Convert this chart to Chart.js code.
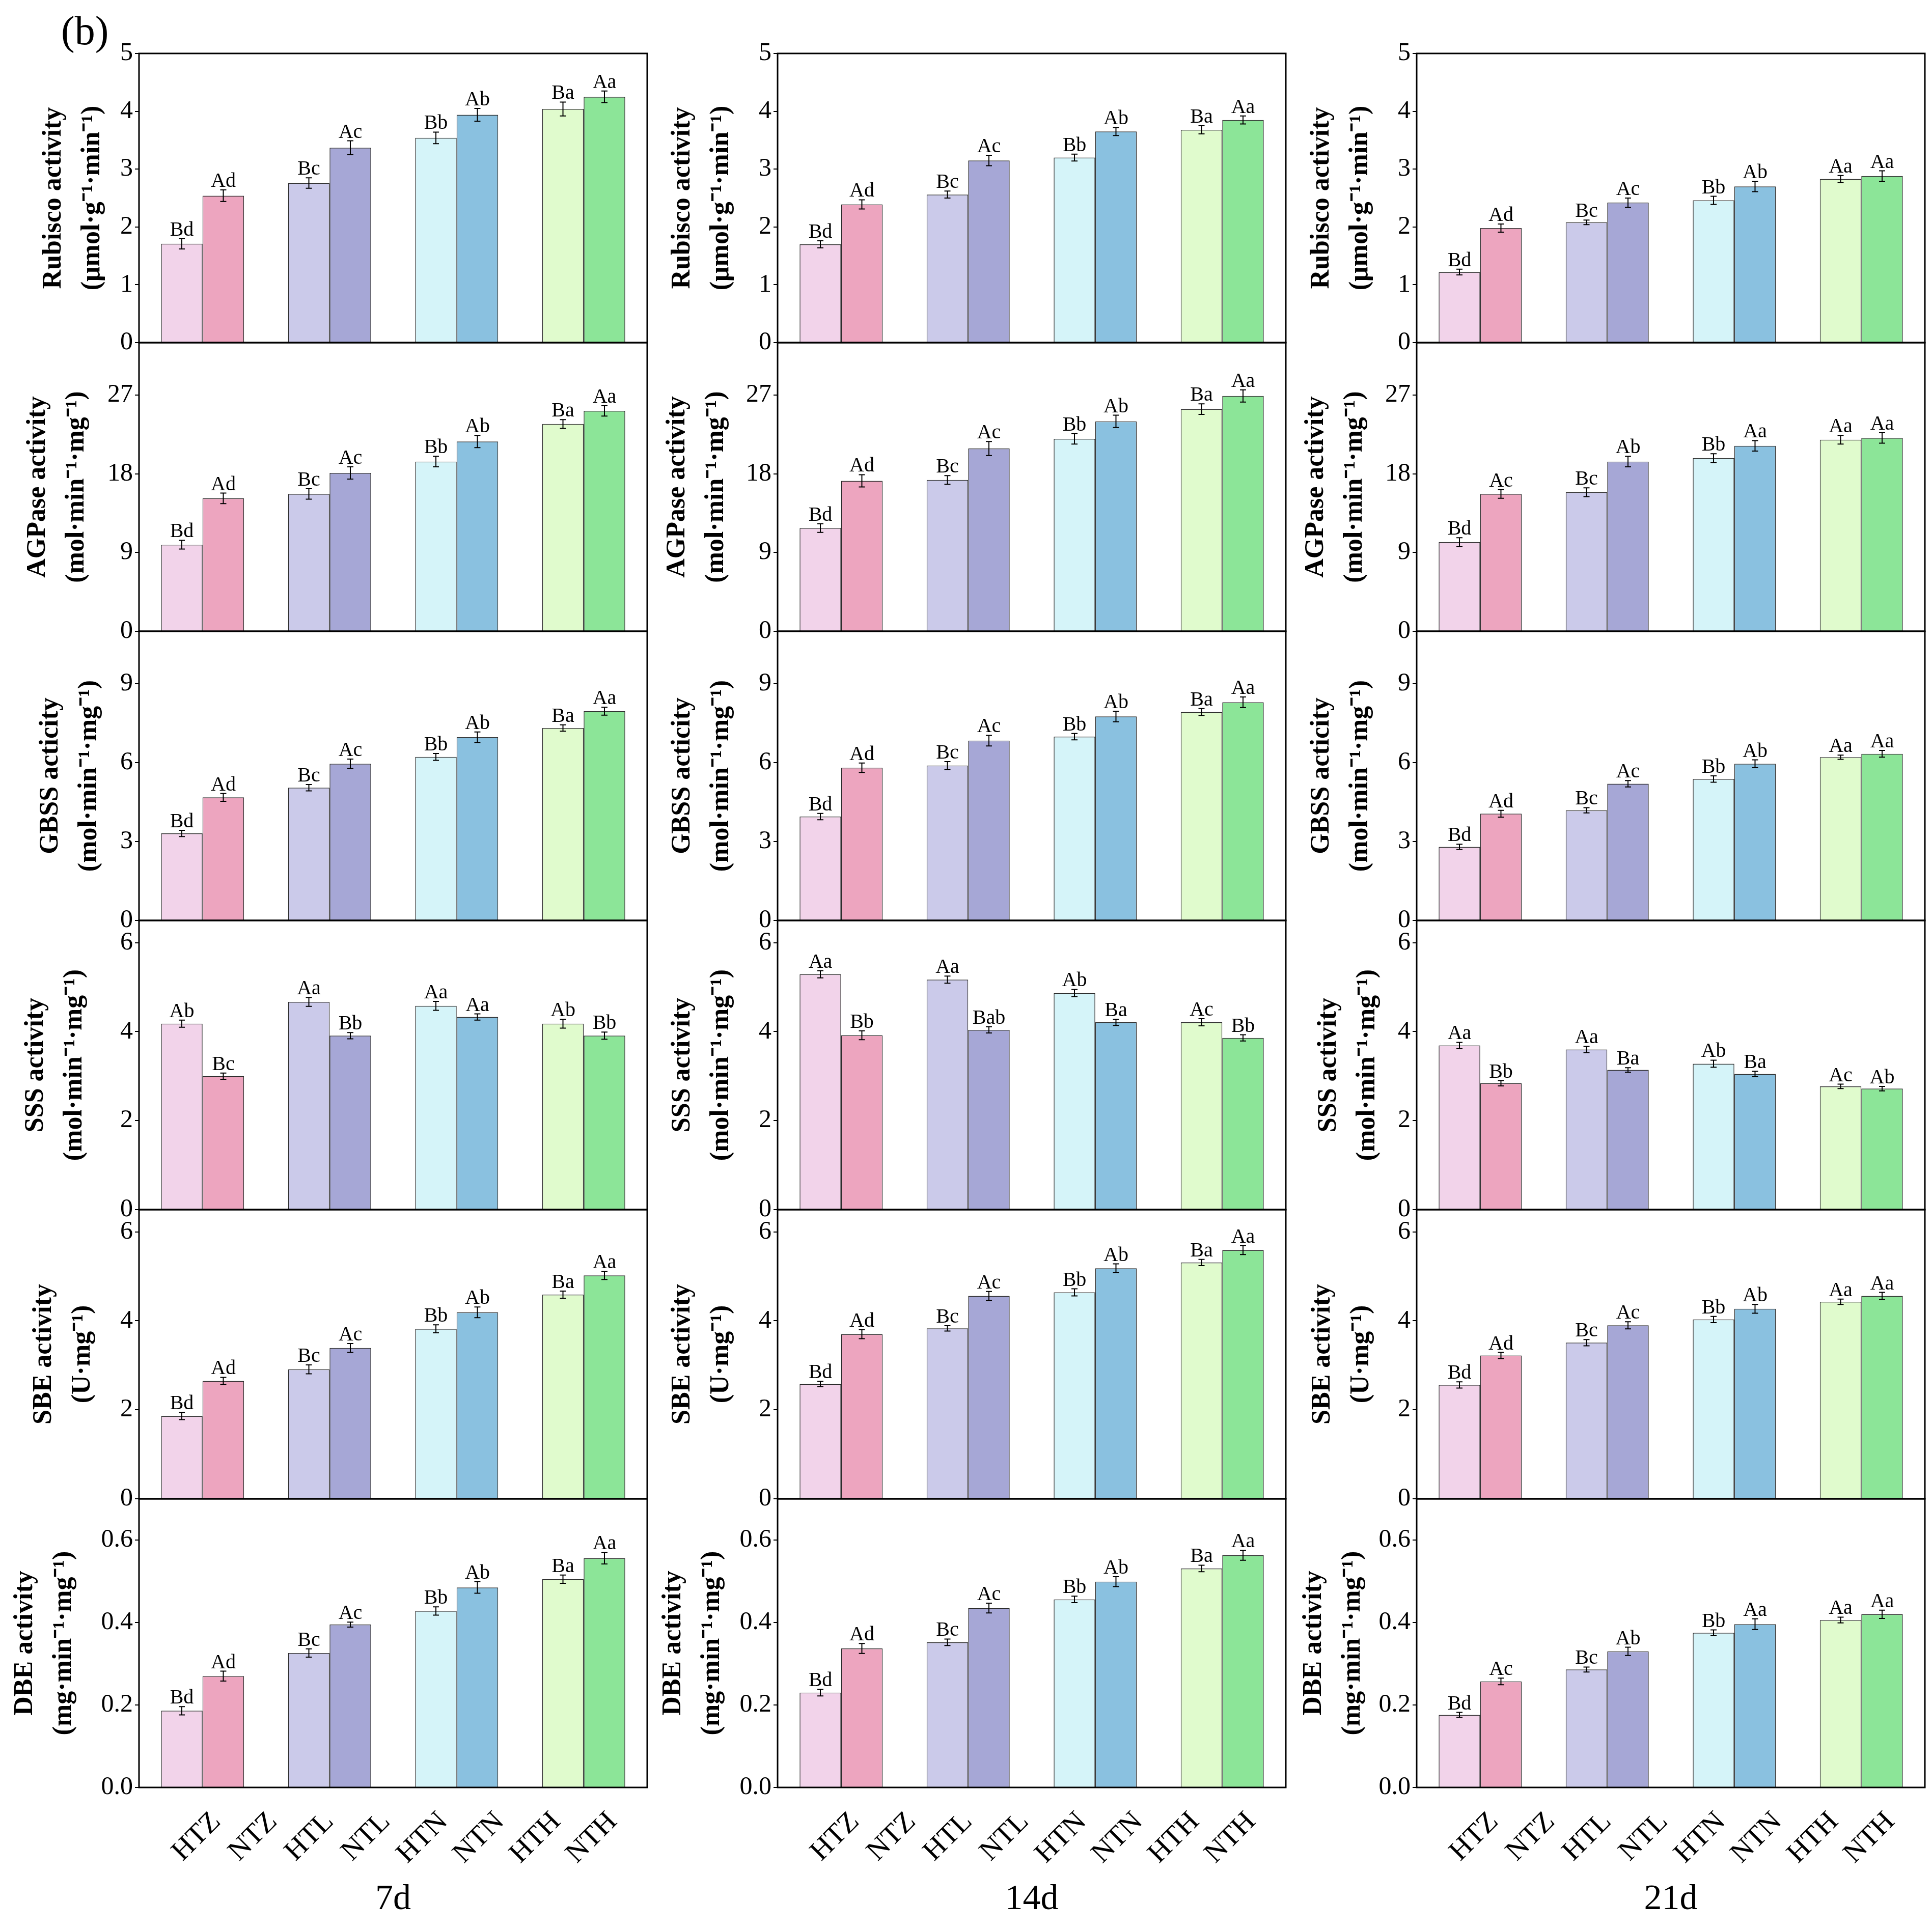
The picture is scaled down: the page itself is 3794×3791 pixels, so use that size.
<!DOCTYPE html>
<html lang="en">
<head>
<meta charset="UTF-8">
<title>Starch enzyme activity</title>
<script src="https://cdn.jsdelivr.net/npm/chart.js@4.4.0/dist/chart.umd.min.js"></script>
<style>
  html, body { margin: 0; padding: 0; background: #fff; }
  body { width: 3794px; height: 3791px; position: relative; overflow: hidden; }
  canvas { position: absolute; }
  #tag { position: absolute; left: 120px; top: 20px; font: 80px "Liberation Serif", serif; line-height: 80px; }
</style>
</head>
<body>
<div id="tag">(b)</div>
<script>
// categories (bar order inside every panel)
const CATEGORIES = ['HTZ', 'NTZ', 'HTL', 'NTL', 'HTN', 'NTN', 'HTH', 'NTH'];
const DAYS = ['7d', '14d', '21d'];

// bar fills: HT (light) and NT (dark) per variety
const HT_COLORS = ['#F2D3EA', '#CBCAEA', '#D5F4F9', '#E0FBCD'];
const NT_COLORS = ['#EDA5BF', '#A6A7D6', '#8AC1E0', '#8CE598'];

// Rubisco
const RUBISCO_7D = [1.71, 2.54, 2.76, 3.37, 3.54, 3.94, 4.04, 4.25];
const RUBISCO_14D = [1.70, 2.39, 2.56, 3.15, 3.20, 3.65, 3.68, 3.85];
const RUBISCO_21D = [1.22, 1.98, 2.08, 2.42, 2.46, 2.70, 2.83, 2.88];
const RUBISCO_7D_ERR = [0.09, 0.10, 0.09, 0.12, 0.10, 0.11, 0.12, 0.10];
const RUBISCO_14D_ERR = [0.06, 0.08, 0.06, 0.09, 0.06, 0.07, 0.07, 0.07];
const RUBISCO_21D_ERR = [0.05, 0.07, 0.04, 0.08, 0.07, 0.09, 0.06, 0.09];
const RUBISCO_7D_SIG = ['Bd', 'Ad', 'Bc', 'Ac', 'Bb', 'Ab', 'Ba', 'Aa'];
const RUBISCO_14D_SIG = ['Bd', 'Ad', 'Bc', 'Ac', 'Bb', 'Ab', 'Ba', 'Aa'];
const RUBISCO_21D_SIG = ['Bd', 'Ad', 'Bc', 'Ac', 'Bb', 'Ab', 'Aa', 'Aa'];
const RUBISCO_TICKS = [0, 1, 2, 3, 4, 5];

// AGPase
const AGPASE_7D = [9.9, 15.2, 15.7, 18.1, 19.4, 21.7, 23.7, 25.2];
const AGPASE_14D = [11.8, 17.2, 17.3, 20.9, 22.0, 24.0, 25.4, 26.9];
const AGPASE_21D = [10.2, 15.7, 15.9, 19.4, 19.8, 21.2, 21.9, 22.1];
const AGPASE_7D_ERR = [0.5, 0.6, 0.6, 0.7, 0.6, 0.7, 0.5, 0.6];
const AGPASE_14D_ERR = [0.5, 0.7, 0.5, 0.8, 0.6, 0.7, 0.6, 0.7];
const AGPASE_21D_ERR = [0.5, 0.5, 0.5, 0.6, 0.5, 0.6, 0.5, 0.6];
const AGPASE_7D_SIG = ['Bd', 'Ad', 'Bc', 'Ac', 'Bb', 'Ab', 'Ba', 'Aa'];
const AGPASE_14D_SIG = ['Bd', 'Ad', 'Bc', 'Ac', 'Bb', 'Ab', 'Ba', 'Aa'];
const AGPASE_21D_SIG = ['Bd', 'Ac', 'Bc', 'Ab', 'Bb', 'Aa', 'Aa', 'Aa'];
const AGPASE_TICKS = [0, 9, 18, 27];

// GBSS
const GBSS_7D = [3.31, 4.68, 5.05, 5.96, 6.22, 6.97, 7.32, 7.96];
const GBSS_14D = [3.95, 5.81, 5.89, 6.84, 6.99, 7.76, 7.93, 8.30];
const GBSS_21D = [2.80, 4.06, 4.19, 5.20, 5.38, 5.96, 6.21, 6.34];
const GBSS_7D_ERR = [0.12, 0.15, 0.12, 0.18, 0.13, 0.20, 0.12, 0.15];
const GBSS_14D_ERR = [0.12, 0.18, 0.15, 0.20, 0.12, 0.20, 0.13, 0.20];
const GBSS_21D_ERR = [0.10, 0.13, 0.10, 0.12, 0.12, 0.15, 0.08, 0.13];
const GBSS_7D_SIG = ['Bd', 'Ad', 'Bc', 'Ac', 'Bb', 'Ab', 'Ba', 'Aa'];
const GBSS_14D_SIG = ['Bd', 'Ad', 'Bc', 'Ac', 'Bb', 'Ab', 'Ba', 'Aa'];
const GBSS_21D_SIG = ['Bd', 'Ad', 'Bc', 'Ac', 'Bb', 'Ab', 'Aa', 'Aa'];
const GBSS_TICKS = [0, 3, 6, 9];

// SSS
const SSS_7D = [4.18, 3.00, 4.67, 3.91, 4.58, 4.33, 4.18, 3.91];
const SSS_14D = [5.29, 3.92, 5.17, 4.04, 4.87, 4.21, 4.21, 3.86];
const SSS_21D = [3.69, 2.84, 3.60, 3.14, 3.28, 3.05, 2.77, 2.72];
const SSS_7D_ERR = [0.08, 0.07, 0.10, 0.07, 0.10, 0.07, 0.10, 0.08];
const SSS_14D_ERR = [0.08, 0.10, 0.08, 0.07, 0.08, 0.07, 0.08, 0.07];
const SSS_21D_ERR = [0.07, 0.06, 0.07, 0.05, 0.08, 0.06, 0.05, 0.05];
const SSS_7D_SIG = ['Ab', 'Bc', 'Aa', 'Bb', 'Aa', 'Aa', 'Ab', 'Bb'];
const SSS_14D_SIG = ['Aa', 'Bb', 'Aa', 'Bab', 'Ab', 'Ba', 'Ac', 'Bb'];
const SSS_21D_SIG = ['Aa', 'Bb', 'Aa', 'Ba', 'Ab', 'Ba', 'Ac', 'Ab'];
const SSS_TICKS = [0, 2, 4, 6];

// SBE
const SBE_7D = [1.86, 2.65, 2.91, 3.39, 3.82, 4.19, 4.59, 5.02];
const SBE_14D = [2.58, 3.70, 3.83, 4.56, 4.64, 5.18, 5.31, 5.59];
const SBE_21D = [2.56, 3.22, 3.51, 3.90, 4.03, 4.27, 4.43, 4.56];
const SBE_7D_ERR = [0.08, 0.08, 0.10, 0.10, 0.09, 0.12, 0.08, 0.09];
const SBE_14D_ERR = [0.06, 0.10, 0.06, 0.10, 0.08, 0.10, 0.07, 0.10];
const SBE_21D_ERR = [0.07, 0.07, 0.07, 0.08, 0.07, 0.10, 0.06, 0.08];
const SBE_7D_SIG = ['Bd', 'Ad', 'Bc', 'Ac', 'Bb', 'Ab', 'Ba', 'Aa'];
const SBE_14D_SIG = ['Bd', 'Ad', 'Bc', 'Ac', 'Bb', 'Ab', 'Ba', 'Aa'];
const SBE_21D_SIG = ['Bd', 'Ad', 'Bc', 'Ac', 'Bb', 'Ab', 'Aa', 'Aa'];
const SBE_TICKS = [0, 2, 4, 6];

// DBE
const DBE_7D = [0.186, 0.270, 0.326, 0.395, 0.428, 0.485, 0.505, 0.556];
const DBE_14D = [0.230, 0.337, 0.352, 0.435, 0.456, 0.499, 0.531, 0.563];
const DBE_21D = [0.176, 0.257, 0.286, 0.330, 0.375, 0.396, 0.406, 0.420];
const DBE_7D_ERR = [0.010, 0.012, 0.010, 0.006, 0.010, 0.014, 0.010, 0.014];
const DBE_14D_ERR = [0.008, 0.012, 0.008, 0.012, 0.008, 0.012, 0.008, 0.012];
const DBE_21D_ERR = [0.006, 0.008, 0.006, 0.010, 0.007, 0.013, 0.007, 0.010];
const DBE_7D_SIG = ['Bd', 'Ad', 'Bc', 'Ac', 'Bb', 'Ab', 'Ba', 'Aa'];
const DBE_14D_SIG = ['Bd', 'Ad', 'Bc', 'Ac', 'Bb', 'Ab', 'Ba', 'Aa'];
const DBE_21D_SIG = ['Bd', 'Ac', 'Bc', 'Ab', 'Bb', 'Aa', 'Aa', 'Aa'];
const DBE_TICKS = [0, 0.2, 0.4, 0.6];

const ROWS = [
  { title: ['Rubisco activity', '(μmol·g⁻¹·min⁻¹)'], max: 5, ticks: RUBISCO_TICKS, dec: 0,
    vals: [RUBISCO_7D, RUBISCO_14D, RUBISCO_21D], errs: [RUBISCO_7D_ERR, RUBISCO_14D_ERR, RUBISCO_21D_ERR],
    sigs: [RUBISCO_7D_SIG, RUBISCO_14D_SIG, RUBISCO_21D_SIG] },
  { title: ['AGPase activity', '(mol·min⁻¹·mg⁻¹)'], max: 33, ticks: AGPASE_TICKS, dec: 0,
    vals: [AGPASE_7D, AGPASE_14D, AGPASE_21D], errs: [AGPASE_7D_ERR, AGPASE_14D_ERR, AGPASE_21D_ERR],
    sigs: [AGPASE_7D_SIG, AGPASE_14D_SIG, AGPASE_21D_SIG] },
  { title: ['GBSS acticity', '(mol·min⁻¹·mg⁻¹)'], max: 11, ticks: GBSS_TICKS, dec: 0,
    vals: [GBSS_7D, GBSS_14D, GBSS_21D], errs: [GBSS_7D_ERR, GBSS_14D_ERR, GBSS_21D_ERR],
    sigs: [GBSS_7D_SIG, GBSS_14D_SIG, GBSS_21D_SIG] },
  { title: ['SSS activity', '(mol·min⁻¹·mg⁻¹)'], max: 6.5, ticks: SSS_TICKS, dec: 0,
    vals: [SSS_7D, SSS_14D, SSS_21D], errs: [SSS_7D_ERR, SSS_14D_ERR, SSS_21D_ERR],
    sigs: [SSS_7D_SIG, SSS_14D_SIG, SSS_21D_SIG] },
  { title: ['SBE activity', '(U·mg⁻¹)'], max: 6.5, ticks: SBE_TICKS, dec: 0,
    vals: [SBE_7D, SBE_14D, SBE_21D], errs: [SBE_7D_ERR, SBE_14D_ERR, SBE_21D_ERR],
    sigs: [SBE_7D_SIG, SBE_14D_SIG, SBE_21D_SIG] },
  { title: ['DBE activity', '(mg·min⁻¹·mg⁻¹)'], max: 0.7, ticks: DBE_TICKS, dec: 1,
    vals: [DBE_7D, DBE_14D, DBE_21D], errs: [DBE_7D_ERR, DBE_14D_ERR, DBE_21D_ERR],
    sigs: [DBE_7D_SIG, DBE_14D_SIG, DBE_21D_SIG] }
];

// layout (page pixels)
const SERIF = '"Liberation Serif", "Times New Roman", serif';
const COL_X = [273, 1527, 2782];
const PLOT_W = 998;
const ROW_TOP0 = 105;
const ROW_H = 567.7;
const AXW = 300;
const TOP_PAD = 40, RIGHT_PAD = 10, BOTTOM_PAD = 40, LAST_PAD = 280;
const CAT_PCT = 0.653;
const XLABEL_SIZE = 56, XLABEL_GAP = 43;
// where the first title line sits, relative to the plot's left edge
const TITLE_OFF = [
  [-167, -198, -173, -202, -186, -223],
  [-186, -196, -186, -186, -186, -204],
  [-186, -197, -186, -172, -184, -201]
];
const TITLE_SIZE = 52, TITLE_LH = 1.45;

const pick = (arr, start) => arr.filter((_, i) => i % 2 === start);

const errLetters = {
  id: 'errLetters',
  afterDatasetsDraw(chart) {
    const { ctx } = chart;
    const y = chart.scales.y;
    ctx.save();
    ctx.strokeStyle = '#000';
    ctx.lineWidth = 2;
    ctx.fillStyle = '#000';
    ctx.font = '40px ' + SERIF;
    ctx.textAlign = 'center';
    ctx.textBaseline = 'alphabetic';
    chart.data.datasets.forEach((ds, di) => {
      chart.getDatasetMeta(di).data.forEach((bar, i) => {
        const v = ds.data[i], e = ds.err[i];
        const yt = y.getPixelForValue(v + e);
        const yb = y.getPixelForValue(v - e);
        const x = bar.x;
        ctx.beginPath();
        ctx.moveTo(x, yt); ctx.lineTo(x, yb);
        ctx.moveTo(x - 6, yt); ctx.lineTo(x + 6, yt);
        ctx.moveTo(x - 6, yb); ctx.lineTo(x + 6, yb);
        ctx.stroke();
        ctx.fillText(ds.sig[i], x, yt - 6);
      });
    });
    ctx.restore();
  }
};

// category names, rotated 45deg, each box centred on its slot of the xl scale
const slotLabels = {
  id: 'slotLabels',
  afterDraw(chart) {
    const xl = chart.scales.xl;
    if (!xl) return;
    const { ctx, chartArea } = chart;
    const capH = 0.662 * XLABEL_SIZE;
    ctx.save();
    ctx.font = XLABEL_SIZE + 'px ' + SERIF;
    ctx.fillStyle = '#000';
    ctx.textAlign = 'right';
    ctx.textBaseline = 'alphabetic';
    CATEGORIES.forEach((lab, i) => {
      const L = ctx.measureText(lab).width;
      const cx = xl.getPixelForValue(i + 0.5);
      ctx.save();
      ctx.translate(cx + 0.3536 * (L + capH), chartArea.bottom + XLABEL_GAP + 0.7071 * capH);
      ctx.rotate(-Math.PI / 4);
      ctx.fillText(lab, 0, 0);
      ctx.restore();
    });
    ctx.restore();
  }
};

const frame = {
  id: 'frame',
  afterDraw(chart) {
    const { ctx, chartArea: a } = chart;
    ctx.save();
    ctx.strokeStyle = '#000';
    ctx.lineWidth = 3;
    ctx.strokeRect(a.left, a.top, a.right - a.left, a.bottom - a.top);
    ctx.restore();
  }
};

function makePanel(r, c) {
  const row = ROWS[r];
  const last = r === ROWS.length - 1;
  const top = Math.round(ROW_TOP0 + r * ROW_H);
  const bot = Math.round(ROW_TOP0 + (r + 1) * ROW_H);
  const padB = last ? LAST_PAD : BOTTOM_PAD;
  const w = AXW + PLOT_W + RIGHT_PAD;
  const h = TOP_PAD + (bot - top) + padB;

  const cv = document.createElement('canvas');
  cv.width = w; cv.height = h;
  cv.style.left = (COL_X[c] - AXW) + 'px';
  cv.style.top = (top - TOP_PAD) + 'px';
  cv.style.width = w + 'px';
  cv.style.height = h + 'px';
  document.body.appendChild(cv);

  const vals = row.vals[c], errs = row.errs[c], sigs = row.sigs[c];
  const titleLine = TITLE_SIZE * TITLE_LH;

  const scales = {
    x: { type: 'category', labels: ['Z', 'L', 'N', 'H'], display: false },
    y: {
      min: 0, max: row.max,
      afterFit: s => { s.width = AXW; },
      afterBuildTicks: s => { s.ticks = row.ticks.map(v => ({ value: v })); },
      border: { display: false },
      grid: { drawOnChartArea: false, drawTicks: true, tickLength: 8, color: '#000', lineWidth: 2 },
      ticks: { font: { family: SERIF, size: 50 }, color: '#000', padding: 4,
               callback: v => Number(v).toFixed(row.dec) },
      title: { display: true, text: row.title, color: '#000',
               font: { family: SERIF, size: TITLE_SIZE, weight: 'bold', lineHeight: TITLE_LH },
               padding: { top: AXW + TITLE_OFF[c][r] - titleLine / 2, bottom: 0 } }
    }
  };
  if (last) {
    scales.xl = {
      type: 'linear', position: 'bottom', min: 0, max: CATEGORIES.length,
      afterFit: s => { s.height = LAST_PAD; },
      grid: { display: false, drawTicks: false }, border: { display: false },
      ticks: { display: false },
      title: { display: true, text: DAYS[c], color: '#000',
               font: { family: SERIF, size: 70 }, padding: { top: 0, bottom: 17 } }
    };
  }

  new Chart(cv, {
    type: 'bar',
    data: {
      labels: ['Z', 'L', 'N', 'H'],
      datasets: [
        { label: 'HT', data: pick(vals, 0), err: pick(errs, 0), sig: pick(sigs, 0),
          backgroundColor: HT_COLORS, borderColor: '#2b2b2b', borderWidth: 1.5,
          categoryPercentage: CAT_PCT, barPercentage: 1.0 },
        { label: 'NT', data: pick(vals, 1), err: pick(errs, 1), sig: pick(sigs, 1),
          backgroundColor: NT_COLORS, borderColor: '#2b2b2b', borderWidth: 1.5,
          categoryPercentage: CAT_PCT, barPercentage: 1.0 }
      ]
    },
    options: {
      responsive: false,
      animation: false,
      layout: { padding: { top: TOP_PAD, right: RIGHT_PAD, bottom: last ? 0 : BOTTOM_PAD, left: 0 } },
      plugins: { legend: { display: false }, tooltip: { enabled: false } },
      scales
    },
    plugins: [errLetters, slotLabels, frame]
  });
}

for (let r = 0; r < ROWS.length; r++) {
  for (let c = 0; c < 3; c++) makePanel(r, c);
}
</script>
</body>
</html>
